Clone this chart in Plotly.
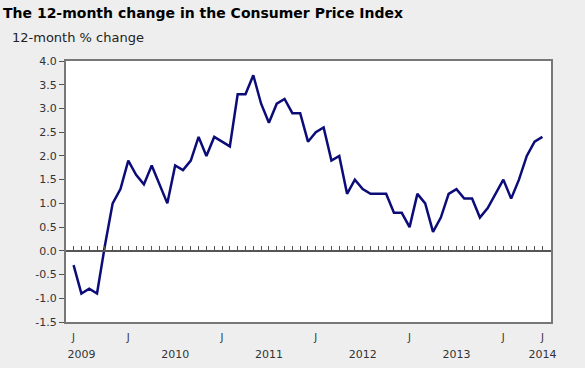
import plotly.graph_objects as go

# Monthly 12-month % change in CPI, June 2009 .. June 2014
months = list(range(61))
cpi_change = [
    -0.3, -0.9, -0.8, -0.9, 0.1, 1.0, 1.3,
    1.9, 1.6, 1.4, 1.8, 1.4, 1.0, 1.8, 1.7, 1.9, 2.4, 2.0, 2.4,
    2.3, 2.2, 3.3, 3.3, 3.7, 3.1, 2.7, 3.1, 3.2, 2.9, 2.9, 2.3,
    2.5, 2.6, 1.9, 2.0, 1.2, 1.5, 1.3, 1.2, 1.2, 1.2, 0.8, 0.8,
    0.5, 1.2, 1.0, 0.4, 0.7, 1.2, 1.3, 1.1, 1.1, 0.7, 0.9, 1.2,
    1.5, 1.1, 1.5, 2.0, 2.3, 2.4,
]
month_tick_pos = [0, 7, 19, 31, 43, 55, 60]
month_tick_text = ["J", "J", "J", "J", "J", "J", "J"]
year_pos = [1, 13, 25, 37, 49, 60]
year_text = ["2009", "2010", "2011", "2012", "2013", "2014"]
y_ticks = [4.0, 3.5, 3.0, 2.5, 2.0, 1.5, 1.0, 0.5, 0.0, -0.5, -1.0, -1.5]

FONT = "DejaVu Sans"
y_min, y_max = -1.5, 4.0
x_min, x_max = -0.97, 61.1

fig = go.Figure()
fig.add_trace(go.Scatter(
    x=months, y=cpi_change, mode="lines",
    line=dict(color="#0c0c78", width=2.5),
    hoverinfo="skip", showlegend=False,
))
# invisible traces on the overlay axes
fig.add_trace(go.Scatter(x=[months[0]], y=[0], xaxis="x2", mode="markers",
                         marker=dict(opacity=0), showlegend=False, hoverinfo="skip"))
fig.add_trace(go.Scatter(x=[months[0]], y=[0], xaxis="x3", mode="markers",
                         marker=dict(opacity=0), showlegend=False, hoverinfo="skip"))

zero_frac = (0 - y_min) / (y_max - y_min)

fig.update_layout(
    width=585, height=368,
    margin=dict(l=66, r=34, t=61, b=46),
    paper_bgcolor="#eeeeee",
    plot_bgcolor="#ffffff",
    font=dict(family=FONT, size=11, color="#333333"),
    xaxis=dict(
        range=[x_min, x_max], showgrid=False, zeroline=False, automargin=False,
        showline=True, mirror=True, linecolor="#777777", linewidth=2,
        tickmode="array", tickvals=month_tick_pos, ticktext=month_tick_text,
        ticks="outside", ticklen=5, tickcolor="rgba(0,0,0,0)",
        tickfont=dict(size=10, color="#333333"),
    ),
    xaxis2=dict(
        range=[x_min, x_max], overlaying="x", anchor="free", position=zero_frac,
        side="bottom", showgrid=False, zeroline=False, automargin=False,
        showline=True, linecolor="#555555", linewidth=1.5,
        tickmode="linear", tick0=0, dtick=1, ticks="inside", ticklen=4,
        tickcolor="#555555", tickwidth=1, showticklabels=False,
    ),
    xaxis3=dict(
        range=[x_min, x_max], overlaying="x", anchor="free", position=0,
        side="bottom", showgrid=False, zeroline=False, showline=False,
        automargin=False,
        tickmode="array", tickvals=year_pos, ticktext=year_text,
        ticks="outside", ticklen=22, tickcolor="rgba(0,0,0,0)",
        tickfont=dict(size=11, color="#333333"),
    ),
    yaxis=dict(
        range=[y_min, y_max], showgrid=False, zeroline=False, automargin=False,
        showline=True, mirror=True, linecolor="#777777", linewidth=2,
        tickmode="array", tickvals=y_ticks,
        ticktext=[f"{v:.1f}" for v in y_ticks],
        ticks="outside", ticklen=5, tickcolor="#555555", tickwidth=1,
        tickfont=dict(size=11, color="#333333"),
    ),
    annotations=[
        dict(text="<b>The 12-month change in the Consumer Price Index</b>",
             xref="paper", yref="paper", x=-65/485, y=1 + 48/261,
             xanchor="left", yanchor="middle", showarrow=False,
             font=dict(family=FONT, size=14, color="#000000")),
        dict(text="12-month % change",
             xref="paper", yref="paper", x=-56/485, y=1 + 24/261,
             xanchor="left", yanchor="middle", showarrow=False,
             font=dict(family=FONT, size=13, color="#222222")),
    ],
)

fig.write_html(
    "out.html",
    config={"displayModeBar": False},
    post_script="document.body.style.margin='0';document.body.style.background='#eeeeee';",
)
